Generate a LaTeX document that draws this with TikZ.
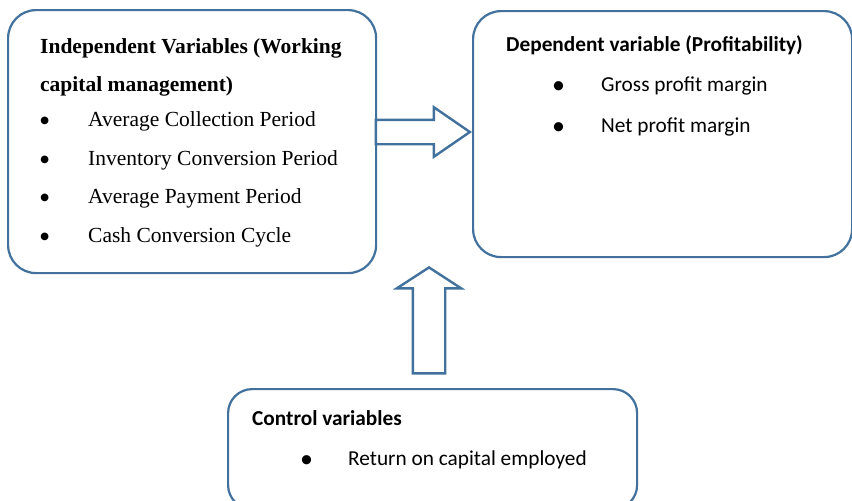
\documentclass[tikz,border=0pt]{standalone}
\usepackage{fontspec}
\setmainfont{Liberation Serif}
\newfontfamily\calibri{Carlito}
\usetikzlibrary{shapes.arrows}
\definecolor{boxblue}{RGB}{65,113,156}
\tikzstyle{varbox} = [rectangle, rounded corners = 28pt, draw = boxblue, line width = 2.2pt, inner sep = 0pt, anchor = north west]
\tikzstyle{blockarrow} = [single arrow, draw = boxblue, line width = 2.4pt, inner xsep = 0pt, fill = white, anchor = tip]
\tikzstyle{seriftext} = [anchor = base west, inner sep = 0pt, font = \fontsize{21.5}{26}\selectfont]
\tikzstyle{serifbullet} = [anchor = base west, inner sep = 0pt, font = \fontsize{32}{32}\selectfont]
\tikzstyle{sanstext} = [anchor = base west, inner sep = 0pt, font = \calibri\fontsize{21.3}{25}\selectfont]
\tikzstyle{sansbullet} = [anchor = base west, inner sep = 0pt, font = \calibri\fontsize{26}{26}\selectfont]

\begin{document}
\begin{tikzpicture}[x = 1pt, y = -1pt]
	\clip (0,0) rectangle (852,501);

	% the three boxes
	\node[varbox, minimum width = 368pt, minimum height = 263pt](independent) at (7,9) {};
	\node[varbox, minimum width = 379pt, minimum height = 246pt](dependent) at (472,10) {};
	\node[varbox, rounded corners = 24pt, minimum width = 409pt, minimum height = 120pt](control) at (227,388) {};

	% block arrows
	\node[blockarrow, minimum height = 94pt, inner ysep = 11pt, single arrow head extend = 12.5pt, single arrow tip angle = 69](toprofit) at (dependent.west |- 0,132) {};
	\node[blockarrow, rotate = 90, minimum height = 106pt, inner ysep = 15pt, single arrow head extend = 16pt, single arrow tip angle = 114](fromcontrol) at (429,266) {};

	% independent variables
	\node[seriftext](indhead1) at (40,53) {\bfseries Independent Variables (Working};
	\node[seriftext](indhead2) at (40,91) {\bfseries capital management)};
	\foreach \y/\txt [count = \i] in {126/Average Collection Period, 165/Inventory Conversion Period, 203/Average Payment Period, 242/Cash Conversion Cycle}{
		\node[serifbullet](indbullet\i) at (39,\y+5) {\textbullet};
		\node[seriftext](inditem\i) at (88,\y) {\txt};
	}

	% dependent variable
	\node[sanstext](dephead) at (506,51) {\bfseries Dependent variable (Profitability)};
	\foreach \y/\txt [count = \i] in {91/Gross profit margin, 132/Net profit margin}{
		\node[sansbullet](depbullet\i) at (552,\y+2) {\textbullet};
		\node[sanstext](depitem\i) at (601,\y) {\txt};
	}

	% control variables
	\node[sanstext](conhead) at (252,425) {\bfseries Control variables};
	\node[sansbullet](conbullet) at (300,467) {\textbullet};
	\node[sanstext](conitem) at (348,465) {Return on capital employed};

\end{tikzpicture}
\end{document}
